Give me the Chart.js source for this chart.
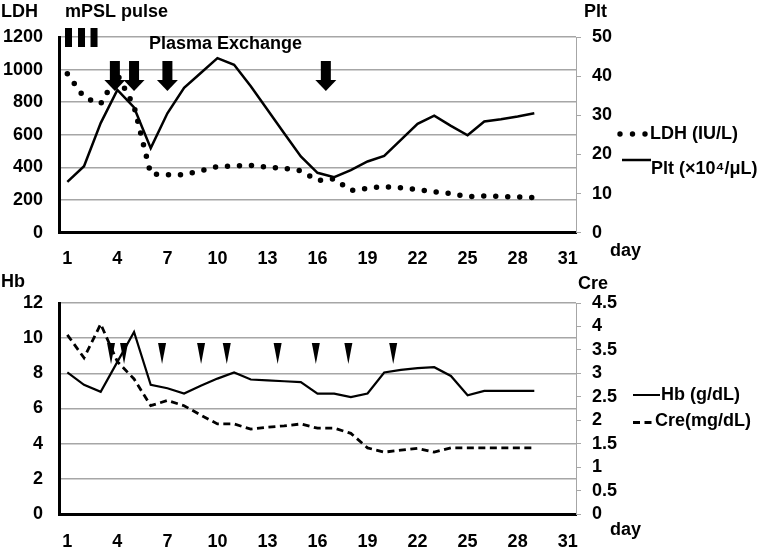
<!DOCTYPE html>
<html><head><meta charset="utf-8">
<script src="https://cdn.jsdelivr.net/npm/chart.js@4.4.0/dist/chart.umd.min.js"></script>
<style>
html,body{margin:0;padding:0;background:#fff;}
#wrap{position:relative;width:767px;height:547px;overflow:hidden;}
.box{position:absolute;left:0;width:767px;}
</style></head><body>
<div id="wrap">
<div class="box" style="top:0;height:273px"><canvas id="topChart"></canvas></div>
<div class="box" style="top:273px;height:274px"><canvas id="botChart"></canvas></div>
</div>
<script>
// ---- data ----
const days = ['1','2','3','4','5','6','7','8','9','10','11','12','13','14','15','16','17','18','19','20','21','22','23','24','25','26','27','28','29','30','31'];
const ldh = [975, 830, 790, 970, 775, 360, 355, 355, 380, 405, 410, 412, 402, 395, 380, 320, 330, 258, 272, 283, 275, 265, 250, 240, 220, 225, 222, 220, 215];
const plt = [13, 17, 28, 36.5, 32, 21.6, 30.5, 37, 40.8, 44.6, 42.9, 37.4, 31.4, 25.4, 19.5, 15.3, 14.2, 16, 18.2, 19.6, 23.7, 27.8, 29.9, 27.3, 24.9, 28.4, 29, 29.7, 30.5];
const hb = [8.05, 7.35, 6.95, 8.65, 10.35, 7.35, 7.15, 6.85, 7.3, 7.7, 8.05, 7.65, 7.6, 7.55, 7.5, 6.85, 6.85, 6.65, 6.85, 8.05, 8.2, 8.3, 8.35, 7.85, 6.75, 7.0, 7.0, 7.0, 7.0];
const cre = [3.82, 3.33, 4.05, 3.25, 2.88, 2.31, 2.42, 2.31, 2.11, 1.92, 1.92, 1.81, 1.85, 1.88, 1.92, 1.83, 1.83, 1.72, 1.41, 1.32, 1.36, 1.40, 1.32, 1.41, 1.41, 1.41, 1.41, 1.41, 1.41];
const mpslDays = [1.07, 1.85, 2.6];
const pexDays = [3.85, 5, 7, 16.5];
const markDays = [3.62, 4.4, 6.68, 9.02, 10.56, 13.61, 15.9, 17.85, 20.54];

const FONT = '"Liberation Sans", Arial, sans-serif';
const FSTR = 'bold 18px ' + FONT;
Chart.defaults.font = {family: FONT, size: 18, weight: 'bold'};
Chart.defaults.color = '#000';
const GRID = '#a6a6a6';

function xScale(h, pad) {
  return {
    type: 'category', offset: true,
    grid: {display: false},
    border: {display: true, color: '#000', width: 3},
    ticks: {autoSkip: false, maxRotation: 0, padding: pad,
      callback: function(v, i) { return i % 3 === 0 ? this.getLabelForValue(v) : ''; }},
    afterFit: s => { s.height = h; }
  };
}
function leftScale(max, step) {
  return {
    position: 'left', min: 0, max: max,
    ticks: {stepSize: step, padding: 16, autoSkip: false, callback: v => String(v)},
    grid: {color: c => (c.tick && c.tick.value === 0) ? 'rgba(0,0,0,0)' : GRID, lineWidth: 1.5, drawTicks: false},
    border: {color: '#000', width: 3},
    afterFit: s => { s.width = 59; }
  };
}
function rightScale(max, step) {
  return {
    position: 'right', min: 0, max: max,
    ticks: {stepSize: step, padding: 11, autoSkip: false, callback: v => String(v)},
    grid: {drawOnChartArea: false, drawTicks: true, tickLength: 5, color: GRID, lineWidth: 1},
    border: {color: GRID, width: 1},
    afterFit: s => { s.width = 191; }
  };
}
function text(ctx, s, x, y) { ctx.fillText(s, x, y); }

const topDeco = {
  id: 'topDeco',
  afterDraw(chart) {
    const {ctx, scales} = chart;
    const x = scales.x;
    ctx.save();
    ctx.fillStyle = '#000'; ctx.strokeStyle = '#000';
    mpslDays.forEach(d => { const cx = x.getPixelForValue(d - 1); ctx.fillRect(cx - 3.5, 28, 7, 19); });
    pexDays.forEach(d => {
      const cx = x.getPixelForValue(d - 1);
      ctx.fillRect(cx - 5, 61, 10, 20);
      ctx.beginPath(); ctx.moveTo(cx - 10.5, 80); ctx.lineTo(cx + 10.5, 80); ctx.lineTo(cx, 91); ctx.closePath(); ctx.fill();
    });
    ctx.font = FSTR; ctx.textBaseline = 'middle'; ctx.textAlign = 'left';
    text(ctx, 'LDH', 1, 12);
    text(ctx, 'mPSL pulse', 65, 12.5);
    text(ctx, 'Plasma Exchange', 149, 44);
    text(ctx, 'Plt', 584, 12);
    text(ctx, 'day', 610, 251);
    // legend
    [620, 632.5, 645].forEach(px => { ctx.beginPath(); ctx.arc(px, 134, 2.7, 0, Math.PI * 2); ctx.fill(); });
    text(ctx, 'LDH (IU/L)', 650, 134);
    ctx.lineWidth = 2.5; ctx.beginPath(); ctx.moveTo(622, 160); ctx.lineTo(651, 160); ctx.stroke();
    text(ctx, 'Plt (×10⁴/μL)', 651, 169);
    ctx.restore();
  }
};
const botDeco = {
  id: 'botDeco',
  afterDraw(chart) {
    const {ctx, scales} = chart;
    const x = scales.x;
    ctx.save();
    ctx.fillStyle = '#000'; ctx.strokeStyle = '#000';
    markDays.forEach(d => {
      const cx = x.getPixelForValue(d - 1);
      ctx.beginPath(); ctx.moveTo(cx - 4, 70); ctx.lineTo(cx + 4, 70); ctx.lineTo(cx, 91); ctx.closePath(); ctx.fill();
    });
    ctx.font = FSTR; ctx.textBaseline = 'middle'; ctx.textAlign = 'left';
    text(ctx, 'Hb', 1, 9);
    text(ctx, 'Cre', 578, 11);
    text(ctx, 'day', 610, 257);
    ctx.lineWidth = 2; ctx.beginPath(); ctx.moveTo(633, 122); ctx.lineTo(660, 122); ctx.stroke();
    text(ctx, 'Hb (g/dL)', 661, 122);
    ctx.lineWidth = 2.8; ctx.setLineDash([7, 4.5]); ctx.beginPath(); ctx.moveTo(633, 149.5); ctx.lineTo(652, 149.5); ctx.stroke();
    ctx.setLineDash([]);
    text(ctx, 'Cre(mg/dL)', 655, 148);
    ctx.restore();
  }
};

new Chart(document.getElementById('topChart'), {
  type: 'line',
  data: {labels: days, datasets: [
    {label: 'LDH (IU/L)', data: ldh, yAxisID: 'y', borderColor: '#000', borderWidth: 5.5, borderDash: [0, 12], borderCapStyle: 'round', pointRadius: 0, tension: 0, fill: false},
    {label: 'Plt (×10⁴/μL)', data: plt, yAxisID: 'y1', borderColor: '#000', borderWidth: 2.5, pointRadius: 0, tension: 0, fill: false}
  ]},
  options: {
    responsive: true, maintainAspectRatio: false, animation: false,
    layout: {padding: {top: 37, left: 0, right: 0, bottom: 0}},
    plugins: {legend: {display: false}, tooltip: {enabled: false}},
    scales: {x: xScale(40.3, 8), y: leftScale(1200, 200), y1: rightScale(50, 10)}
  },
  plugins: [topDeco]
});

new Chart(document.getElementById('botChart'), {
  type: 'line',
  data: {labels: days, datasets: [
    {label: 'Hb (g/dL)', data: hb, yAxisID: 'y', borderColor: '#000', borderWidth: 2.2, pointRadius: 0, tension: 0, fill: false},
    {label: 'Cre(mg/dL)', data: cre, yAxisID: 'y1', borderColor: '#000', borderWidth: 2.8, borderDash: [7, 4.5], pointRadius: 0, tension: 0, fill: false}
  ]},
  options: {
    responsive: true, maintainAspectRatio: false, animation: false,
    layout: {padding: {top: 30, left: 0, right: 0, bottom: 0}},
    plugins: {legend: {display: false}, tooltip: {enabled: false}},
    scales: {x: xScale(33, 9), y: leftScale(12, 2), y1: rightScale(4.5, 0.5)}
  },
  plugins: [botDeco]
});
</script>
</body></html>
